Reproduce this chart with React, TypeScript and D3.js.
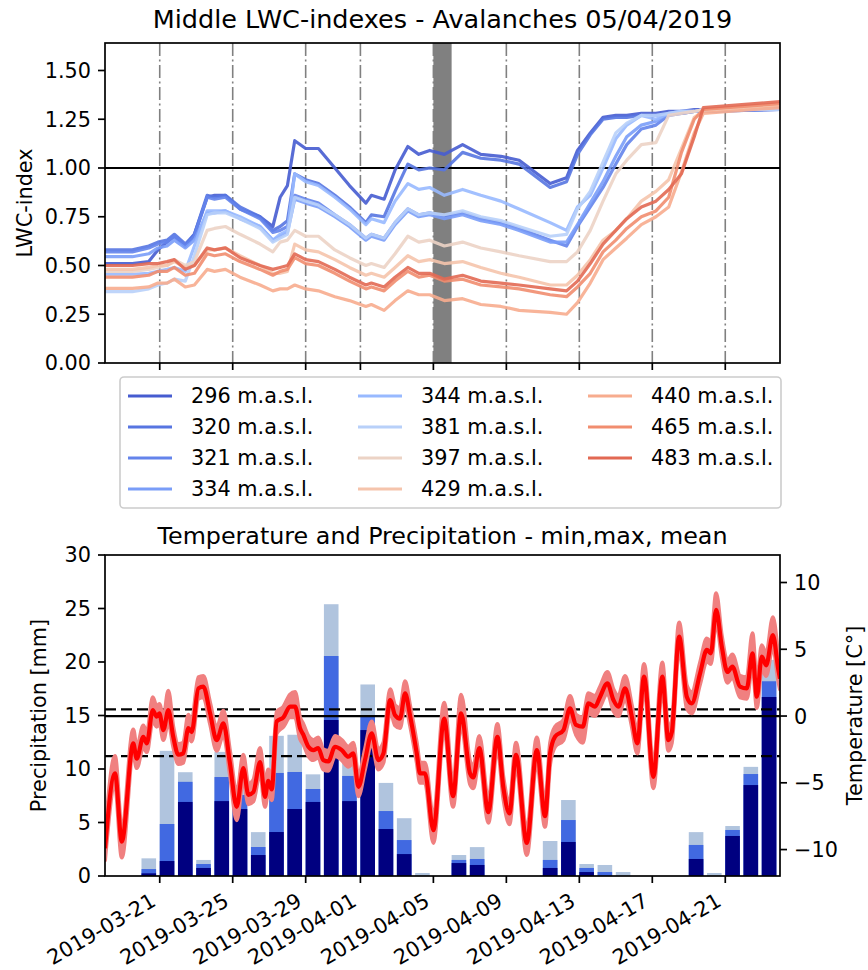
import React from "react";
import * as d3 from "d3";

const W = 868;
const H = 970;
const FONT = "DejaVu Sans";
const t0 = Date.UTC(2019, 2, 18);
const dayMs = 864e5;

// x ticks shared by both panels
const tickDates = ["2019-03-21", "2019-03-25", "2019-03-29", "2019-04-01", "2019-04-05", "2019-04-09", "2019-04-13", "2019-04-17", "2019-04-21"];
const avalancheDay = "2019-04-05";

// LWC index series (days since 2019-03-18)
const lwcDays = [0, 1.5, 2.4, 2.9, 3.4, 3.8, 4.4, 4.9, 5.6, 6.0, 6.6, 7.4, 8.5, 9.2, 9.6, 10.0, 10.4, 11.0, 11.7, 12.6, 13.4, 14.3, 14.6, 15.3, 15.9, 16.6, 17.2, 17.8, 18.6, 19.6, 20.6, 21.7, 22.7, 24.4, 25.3, 25.9, 26.6, 27.3, 28.0, 28.6, 29.4, 30.2, 30.9, 31.6, 32.3, 32.8, 37.0];
const elevations = ["296", "320", "321", "334", "344", "381", "397", "429", "440", "465", "483"];
const lineColors = ["#465cd0", "#5775e1", "#6484eb", "#7a9df8", "#98b9ff", "#b8d0f9", "#ecd3c5", "#f5c4ac", "#f7ac8e", "#f18d6f", "#e26953"];
const lwc296 = [0.51, 0.51, 0.52, 0.58, 0.62, 0.65, 0.60, 0.66, 0.85, 0.86, 0.86, 0.79, 0.75, 0.70, 0.85, 0.91, 1.14, 1.10, 1.10, 1.00, 0.91, 0.82, 0.86, 0.84, 0.99, 1.11, 1.07, 1.09, 1.07, 1.12, 1.07, 1.06, 1.04, 0.92, 0.95, 1.09, 1.18, 1.26, 1.27, 1.27, 1.28, 1.28, 1.29, 1.29, 1.30, 1.30, 1.31];
const lwc320 = [0.58, 0.58, 0.60, 0.62, 0.63, 0.66, 0.61, 0.66, 0.86, 0.85, 0.86, 0.80, 0.75, 0.68, 0.70, 0.73, 0.97, 0.94, 0.92, 0.86, 0.80, 0.72, 0.76, 0.75, 0.88, 1.02, 0.99, 1.00, 0.99, 1.08, 1.05, 1.04, 1.02, 0.90, 0.93, 1.07, 1.17, 1.25, 1.26, 1.26, 1.27, 1.27, 1.28, 1.28, 1.29, 1.29, 1.30];
const lwc321 = [0.57, 0.57, 0.59, 0.61, 0.62, 0.65, 0.60, 0.65, 0.85, 0.84, 0.85, 0.79, 0.74, 0.67, 0.68, 0.70, 0.86, 0.84, 0.82, 0.76, 0.71, 0.64, 0.66, 0.64, 0.72, 0.79, 0.76, 0.77, 0.75, 0.77, 0.74, 0.72, 0.69, 0.63, 0.60, 0.70, 0.80, 0.90, 1.02, 1.12, 1.20, 1.22, 1.27, 1.28, 1.29, 1.29, 1.30];
const lwc334 = [0.545, 0.545, 0.56, 0.59, 0.60, 0.63, 0.59, 0.63, 0.77, 0.77, 0.78, 0.74, 0.70, 0.63, 0.65, 0.67, 0.84, 0.82, 0.80, 0.75, 0.70, 0.63, 0.65, 0.63, 0.71, 0.78, 0.75, 0.76, 0.74, 0.76, 0.73, 0.71, 0.68, 0.62, 0.62, 0.71, 0.82, 0.93, 1.06, 1.16, 1.22, 1.24, 1.28, 1.29, 1.29, 1.30, 1.30];
const lwc344 = [0.455, 0.455, 0.46, 0.47, 0.48, 0.49, 0.47, 0.60, 0.78, 0.78, 0.78, 0.75, 0.70, 0.63, 0.66, 0.68, 0.97, 0.93, 0.91, 0.85, 0.79, 0.71, 0.74, 0.72, 0.83, 0.92, 0.89, 0.90, 0.86, 0.89, 0.86, 0.83, 0.79, 0.72, 0.68, 0.80, 0.86, 1.00, 1.15, 1.22, 1.27, 1.25, 1.28, 1.29, 1.29, 1.30, 1.30];
const lwc381 = [0.366, 0.366, 0.38, 0.40, 0.41, 0.43, 0.42, 0.55, 0.76, 0.77, 0.77, 0.74, 0.69, 0.62, 0.64, 0.66, 0.85, 0.83, 0.81, 0.76, 0.71, 0.64, 0.66, 0.64, 0.72, 0.79, 0.76, 0.77, 0.76, 0.78, 0.75, 0.73, 0.70, 0.65, 0.66, 0.79, 0.88, 1.03, 1.18, 1.23, 1.27, 1.27, 1.28, 1.29, 1.29, 1.30, 1.30];
const lwc397 = [0.47, 0.47, 0.48, 0.49, 0.50, 0.53, 0.50, 0.52, 0.68, 0.69, 0.70, 0.66, 0.61, 0.57, 0.62, 0.63, 0.68, 0.65, 0.65, 0.58, 0.54, 0.50, 0.51, 0.49, 0.56, 0.65, 0.62, 0.63, 0.60, 0.62, 0.59, 0.57, 0.55, 0.52, 0.52, 0.57, 0.68, 0.83, 0.97, 1.04, 1.12, 1.13, 1.27, 1.28, 1.29, 1.30, 1.32];
const lwc429 = [0.48, 0.48, 0.49, 0.50, 0.50, 0.52, 0.49, 0.50, 0.58, 0.58, 0.59, 0.55, 0.50, 0.46, 0.46, 0.47, 0.61, 0.58, 0.57, 0.53, 0.49, 0.45, 0.46, 0.44, 0.49, 0.55, 0.52, 0.53, 0.51, 0.52, 0.49, 0.46, 0.44, 0.40, 0.40, 0.45, 0.53, 0.63, 0.68, 0.74, 0.83, 0.88, 0.94, 1.10, 1.26, 1.29, 1.32];
const lwc440 = [0.383, 0.383, 0.39, 0.41, 0.41, 0.43, 0.39, 0.40, 0.48, 0.47, 0.48, 0.44, 0.40, 0.37, 0.38, 0.38, 0.40, 0.38, 0.37, 0.34, 0.32, 0.29, 0.30, 0.27, 0.32, 0.37, 0.35, 0.35, 0.32, 0.33, 0.30, 0.29, 0.27, 0.26, 0.25, 0.31, 0.41, 0.53, 0.59, 0.64, 0.71, 0.75, 0.80, 0.98, 1.18, 1.28, 1.31];
const lwc465 = [0.44, 0.44, 0.45, 0.47, 0.47, 0.49, 0.45, 0.46, 0.56, 0.55, 0.56, 0.52, 0.48, 0.45, 0.47, 0.48, 0.54, 0.51, 0.50, 0.46, 0.42, 0.38, 0.39, 0.37, 0.42, 0.47, 0.44, 0.45, 0.42, 0.43, 0.40, 0.39, 0.38, 0.35, 0.34, 0.39, 0.46, 0.57, 0.63, 0.69, 0.75, 0.78, 0.85, 1.08, 1.25, 1.30, 1.33];
const lwc483 = [0.50, 0.50, 0.51, 0.51, 0.52, 0.53, 0.48, 0.50, 0.59, 0.58, 0.59, 0.54, 0.50, 0.48, 0.49, 0.50, 0.56, 0.53, 0.52, 0.48, 0.44, 0.40, 0.41, 0.39, 0.44, 0.49, 0.46, 0.46, 0.43, 0.45, 0.42, 0.41, 0.40, 0.38, 0.37, 0.42, 0.51, 0.61, 0.68, 0.74, 0.80, 0.83, 0.89, 0.97, 1.16, 1.31, 1.34];
const lwcSeries = [lwc296, lwc320, lwc321, lwc334, lwc344, lwc381, lwc397, lwc429, lwc440, lwc465, lwc483];

// daily precipitation (bars start at midnight, 0.8 day wide)
const precipDates = ["2019-03-18", "2019-03-19", "2019-03-20", "2019-03-21", "2019-03-22", "2019-03-23", "2019-03-24", "2019-03-25", "2019-03-26", "2019-03-27", "2019-03-28", "2019-03-29", "2019-03-30", "2019-03-31", "2019-04-01", "2019-04-02", "2019-04-03", "2019-04-04", "2019-04-05", "2019-04-06", "2019-04-07", "2019-04-08", "2019-04-09", "2019-04-10", "2019-04-11", "2019-04-12", "2019-04-13", "2019-04-14", "2019-04-15", "2019-04-16", "2019-04-17", "2019-04-18", "2019-04-19", "2019-04-20", "2019-04-21", "2019-04-22", "2019-04-23"];
const precipMax = [0, 0, 1.65, 11.7, 9.7, 1.5, 11.6, 8.5, 4.1, 13.1, 13.2, 9.5, 25.4, 12.0, 17.9, 8.7, 5.4, 0.28, 0, 1.96, 2.7, 0, 0, 0, 3.27, 7.1, 1.12, 1.03, 0.37, 0, 0, 0, 4.1, 0.28, 4.67, 10.2, 20.2];
const precipMean = [0, 0, 0.65, 4.86, 8.8, 1.12, 9.25, 7.57, 2.71, 9.63, 9.72, 8.13, 20.56, 9.35, 14.9, 6.07, 3.36, 0, 0, 1.5, 1.59, 0, 0, 0, 1.5, 5.23, 0.75, 0.37, 0, 0, 0, 0, 2.9, 0, 4.3, 9.53, 18.2];
const precipMin = [0, 0, 0.25, 1.4, 6.92, 0.75, 7.0, 6.26, 1.96, 4.11, 6.26, 6.92, 14.58, 7.0, 13.64, 4.39, 2.05, 0, 0, 1.21, 1.03, 0, 0, 0, 0.75, 3.18, 0.37, 0, 0, 0, 0, 0, 1.59, 0, 3.74, 8.5, 16.73];

// air temperature (days since 2019-03-18)
const tempDays = [0, 0.55, 0.92, 1.55, 1.74, 2.1, 2.29, 2.62, 2.83, 2.98, 3.2, 3.47, 3.74, 4.02, 4.29, 4.57, 4.75, 5.12, 5.39, 5.76, 6.12, 6.49, 6.85, 7.22, 7.58, 7.86, 8.13, 8.5, 8.77, 8.95, 9.14, 9.41, 9.78, 10.14, 10.42, 10.69, 10.87, 11.15, 11.42, 11.69, 11.97, 12.24, 12.61, 12.98, 13.34, 13.61, 13.89, 14.25, 14.62, 14.98, 15.26, 15.63, 15.9, 16.17, 16.45, 16.72, 17.09, 17.27, 17.54, 18.0, 18.59, 19.08, 19.52, 20.01, 20.19, 20.52, 21.01, 21.51, 21.84, 22.17, 22.53, 23.12, 23.67, 24.12, 24.4, 24.67, 25.13, 25.49, 25.82, 26.19, 26.5, 26.86, 27.14, 27.54, 27.87, 28.14, 28.51, 28.88, 29.18, 29.55, 30.06, 30.55, 30.88, 31.07, 31.47, 31.89, 32.16, 32.62, 32.99, 33.21, 33.5, 33.81, 34.12, 34.39, 34.81, 35.18, 35.49, 35.73, 36.0, 36.24, 36.61, 36.91, 37.0];
const tempMean = [-9.9, -4.3, -9.4, -2.05, -3.2, -1.55, -2.05, 0.45, -0.05, 0.2, -1.05, 0.45, -1.55, -2.9, -2.8, -0.9, -1.2, 2.07, 2.2, 0.2, -1.8, -0.55, -3.55, -6.8, -3.9, -5.9, -5.7, -3.45, -6.05, -4.85, -5.5, -0.4, -0.1, 0.7, 0.7, -0.9, -1.4, -2.3, -2.55, -2.4, -3.3, -3.4, -2.3, -2.55, -3.05, -2.8, -5.3, -3.3, -1.3, -3.3, -2.8, 1.2, 0.05, -0.2, 1.7, 0.05, -2.8, -4.3, -4.3, -8.55, -0.2, -6.0, 0.2, -4.3, -4.6, -2.4, -7.2, -1.55, -5.4, -7.3, -2.9, -9.5, -2.55, -7.5, -2.8, -1.55, -1.05, 0.57, -0.67, -0.8, 0.95, 0.7, 1.45, 2.45, 1.2, 0.7, 2.07, -0.05, -2.05, 2.95, -4.55, 2.95, -1.8, -1.2, 5.95, 1.45, 0.95, 3.2, 4.95, 4.7, 7.95, 5.2, 3.3, 3.7, 2.2, 2.07, 4.7, 1.45, 4.45, 3.8, 6.07, 3.45, 2.8];
const tempMin = [-10.8, -5.2, -10.6, -2.9, -3.9, -2.3, -2.7, -0.3, -0.8, -0.5, -1.8, -0.4, -2.3, -3.6, -3.5, -1.6, -1.9, 1.3, 1.4, -0.6, -2.6, -1.4, -4.4, -7.8, -4.7, -6.6, -6.4, -4.2, -6.8, -5.6, -6.3, -1.3, -0.8, -0.1, -0.1, -1.7, -2.1, -3.0, -3.3, -3.1, -4.0, -4.1, -3.0, -3.3, -3.8, -3.5, -6.0, -4.0, -2.0, -4.0, -3.5, 0.4, -0.7, -0.9, 0.9, -0.7, -3.5, -5.0, -5.0, -9.5, -1.0, -6.8, -0.6, -5.1, -5.4, -3.2, -8.0, -2.4, -6.2, -8.1, -3.7, -10.4, -3.4, -8.3, -3.6, -2.3, -1.8, -0.2, -1.4, -2.0, 0.2, 0.0, 0.7, 1.7, 0.4, 0.0, 1.3, -0.8, -2.8, 2.1, -5.4, 2.1, -2.6, -2.0, 5.1, 0.6, 0.2, 2.4, 4.1, 3.9, 7.1, 4.4, 2.5, 2.9, 1.4, 1.3, 3.9, 0.6, 3.6, 3.0, 5.2, 2.6, 2.0];
const tempMax = [-9.0, -3.0, -8.4, -1.0, -2.4, -0.7, -1.3, 1.4, 0.7, 0.9, -0.2, 1.9, -0.8, -2.1, -2.0, 0.1, -0.4, 2.9, 3.0, 1.0, -0.9, 0.4, -2.6, -5.8, -2.9, -5.1, -4.8, -2.4, -5.1, -4.0, -4.6, 0.3, 0.7, 1.6, 1.8, -0.1, -0.6, -1.5, -1.8, -1.6, -2.5, -2.6, -1.5, -1.8, -2.3, -2.0, -4.5, -2.5, -0.4, -2.5, -2.0, 2.0, 0.8, 0.6, 2.6, 0.8, -2.0, -3.5, -3.5, -7.6, 1.0, -5.1, 1.6, -3.4, -3.8, -1.5, -6.3, -0.6, -4.6, -6.5, -2.0, -8.6, -1.6, -6.6, -2.0, -0.8, -0.3, 1.5, 0.1, -0.1, 1.7, 1.5, 2.2, 3.3, 2.0, 1.5, 3.0, 0.8, -1.2, 3.9, -3.7, 4.0, -0.9, -0.4, 7.0, 2.3, 1.8, 4.0, 5.8, 5.5, 9.2, 6.0, 4.1, 4.6, 3.0, 2.9, 6.2, 2.5, 5.3, 4.6, 7.4, 4.5, 3.6];
const tempLevels = [0.5, -3];

const yTicksTop = [0, 0.25, 0.5, 0.75, 1.0, 1.25, 1.5];
const yTicksPrecip = [0, 5, 10, 15, 20, 25, 30];
const yTicksTemp = [-10, -5, 0, 5, 10];

export default function App() {
  const parse = d3.utcParse("%Y-%m-%d");
  const dayDate = (d: number) => new Date(t0 + d * dayMs);
  const x = d3.scaleUtc().domain([dayDate(0), dayDate(37)]).range([105, 780]);
  const yTop = d3.scaleLinear().domain([0, 1.641]).range([363, 43]);
  const yPr = d3.scaleLinear().domain([0, 30]).range([876, 555]);
  const yT = d3.scaleLinear().domain([-11.98, 12.06]).range([876, 555]);

  const lwcLine = d3
    .line<number>()
    .x((_, i) => x(dayDate(lwcDays[i])))
    .y((v) => yTop(v));

  const tempLine = d3
    .line<number>()
    .x((_, i) => x(dayDate(tempDays[i])))
    .y((v) => yT(v))
    .curve(d3.curveMonotoneX);
  const tempBand = d3
    .area<number>()
    .x((_, i) => x(dayDate(tempDays[i])))
    .y0((_, i) => yT(tempMin[i]))
    .y1((_, i) => yT(tempMax[i]))
    .curve(d3.curveMonotoneX);

  const ticks = tickDates.map((s) => x(parse(s) as Date));
  const avStart = parse(avalancheDay) as Date;
  const avEnd = d3.utcDay.offset(avStart, 1);
  const fmt2 = d3.format(".2f");
  const fmtT = (v: number) => (v < 0 ? "\u2212" + Math.abs(v) : String(v));

  const barW = x(dayDate(0.8)) - x(dayDate(0));
  const bars = (vals: number[], color: string) =>
    vals.map((v, i) =>
      v > 0 ? (
        <rect key={i} x={x(parse(precipDates[i]) as Date)} y={yPr(v)} width={barW} height={yPr(0) - yPr(v)} fill={color} />
      ) : null
    );

  const legendCols = [128, 358, 588];
  const legendRows = [396, 427, 458, 489];

  return (
    <svg width={W} height={H} style={{ position: "absolute", left: 0, top: 0, background: "#fff" }} fontFamily={FONT}>
      <defs>
        <clipPath id="clipTop">
          <rect x={105} y={43} width={675} height={320} />
        </clipPath>
        <clipPath id="clipBot">
          <rect x={105} y={555} width={675} height={321} />
        </clipPath>
      </defs>

      {/* ---------- top panel ---------- */}
      <text x={442.5} y={28} fontSize={25.5} textAnchor="middle">Middle LWC-indexes - Avalanches 05/04/2019</text>
      <rect x={x(avStart)} y={43} width={x(avEnd) - x(avStart)} height={320} fill="#808080" />
      {ticks.map((tx, i) => (
        <line key={i} x1={tx} x2={tx} y1={43} y2={363} stroke="#808080" strokeWidth={1.6} strokeDasharray="13,3.5,2,3.5" />
      ))}
      <line x1={105} x2={780} y1={yTop(1)} y2={yTop(1)} stroke="#000" strokeWidth={2.2} />
      <g clipPath="url(#clipTop)">
        {lwcSeries.map((s, i) => (
          <path key={i} d={lwcLine(s) || ""} fill="none" stroke={lineColors[i]} strokeWidth={3.2} strokeOpacity={0.9} strokeLinejoin="round" />
        ))}
      </g>
      <rect x={105} y={43} width={675} height={320} fill="none" stroke="#000" strokeWidth={1.7} />
      {ticks.map((tx, i) => (
        <line key={i} x1={tx} x2={tx} y1={363} y2={370} stroke="#000" strokeWidth={1.7} />
      ))}
      {yTicksTop.map((v) => (
        <g key={v}>
          <line x1={98} x2={105} y1={yTop(v)} y2={yTop(v)} stroke="#000" strokeWidth={1.7} />
          <text x={91} y={yTop(v)} dy="0.36em" fontSize={20.8} textAnchor="end">{fmt2(v)}</text>
        </g>
      ))}
      <text transform="translate(24,203) rotate(-90)" fontSize={20.8} textAnchor="middle" dy="0.36em">LWC-index</text>

      {/* legend */}
      <rect x={120} y={377} width={661} height={131} rx={4} fill="#fff" fillOpacity={0.8} stroke="#cccccc" strokeWidth={1.6} />
      {elevations.map((e, i) => {
        const c = Math.floor(i / 4);
        const r = i % 4;
        return (
          <g key={e}>
            <line x1={legendCols[c]} x2={legendCols[c] + 44} y1={legendRows[r]} y2={legendRows[r]} stroke={lineColors[i]} strokeWidth={3.2} />
            <text x={legendCols[c] + 63} y={legendRows[r]} dy="0.36em" fontSize={20.8}>{e} m.a.s.l.</text>
          </g>
        );
      })}

      {/* ---------- bottom panel ---------- */}
      <text x={442.5} y={544} fontSize={23.8} textAnchor="middle">Temperature and Precipitation - min,max, mean</text>
      <g>{bars(precipMax, "#b0c4de")}</g>
      <g>{bars(precipMean, "#4169e1")}</g>
      <g>{bars(precipMin, "#000080")}</g>
      <line x1={105} x2={780} y1={yT(0)} y2={yT(0)} stroke="#000" strokeWidth={2.2} />
      {tempLevels.map((v) => (
        <line key={v} x1={105} x2={780} y1={yT(v)} y2={yT(v)} stroke="#000" strokeWidth={2.2} strokeDasharray="11,5" />
      ))}
      <g clipPath="url(#clipBot)">
        <path d={tempBand(tempMean) || ""} fill="#f08080" stroke="#f08080" strokeWidth={4} strokeLinejoin="round" />
        <path d={tempLine(tempMean) || ""} fill="none" stroke="#ff0000" strokeWidth={4.2} strokeLinejoin="round" />
      </g>
      <rect x={105} y={555} width={675} height={321} fill="none" stroke="#000" strokeWidth={1.7} />
      {yTicksPrecip.map((v) => (
        <g key={v}>
          <line x1={98} x2={105} y1={yPr(v)} y2={yPr(v)} stroke="#000" strokeWidth={1.7} />
          <text x={91} y={yPr(v)} dy="0.36em" fontSize={20.8} textAnchor="end">{v}</text>
        </g>
      ))}
      {yTicksTemp.map((v) => (
        <g key={v}>
          <line x1={780} x2={787} y1={yT(v)} y2={yT(v)} stroke="#000" strokeWidth={1.7} />
          <text x={794} y={yT(v)} dy="0.36em" fontSize={20.8}>{fmtT(v)}</text>
        </g>
      ))}
      {ticks.map((tx, i) => (
        <g key={i}>
          <line x1={tx} x2={tx} y1={876} y2={883} stroke="#000" strokeWidth={1.7} />
          <text transform={`translate(${tx - 2.5},905) rotate(-30)`} fontSize={20.8} textAnchor="end">{tickDates[i]}</text>
        </g>
      ))}
      <text transform="translate(38,715.5) rotate(-90)" fontSize={20.8} textAnchor="middle" dy="0.36em">Precipitation [mm]</text>
      <text transform="translate(854,715.5) rotate(-90)" fontSize={20.8} textAnchor="middle" dy="0.36em">Temperature [C°]</text>
    </svg>
  );
}
